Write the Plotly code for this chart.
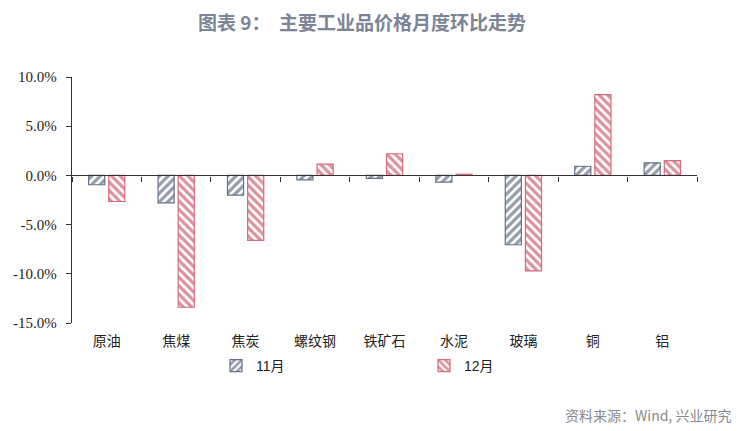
import plotly.graph_objects as go

categories = ["原油", "焦煤", "焦炭", "螺纹钢", "铁矿石", "水泥", "玻璃", "铜", "铝"]
nov_values = [-0.95, -2.8, -2.0, -0.45, -0.3, -0.68, -7.05, 0.93, 1.27]
dec_values = [-2.65, -13.4, -6.6, 1.15, 2.2, 0.12, -9.7, 8.2, 1.5]
series_names = ["11月", "12月"]
y_tick_vals = [10, 5, 0, -5, -10, -15]
y_tick_text = ["10.0%", "5.0%", "0.0%", "-5.0%", "-10.0%", "-15.0%"]

# the page body adds an 8px offset, so the figure is drawn 8px smaller
OFF = 8
W, H = 752 - OFF, 431 - OFF
ML, MR, MT, MB = 72 - OFF, 55, 77 - OFF, 108
PW, PH = W - ML - MR, H - MT - MB

fig = go.Figure()
fig.add_trace(go.Bar(
    x=categories, y=nov_values, name=series_names[0],
    marker=dict(color="white",
                line=dict(color="#66728A", width=1.2),
                pattern=dict(shape="/", fgcolor="#2E3A54", bgcolor="white", size=6, solidity=0.55)),
))
fig.add_trace(go.Bar(
    x=categories, y=dec_values, name=series_names[1],
    marker=dict(color="white",
                line=dict(color="#D86A7A", width=1.2),
                pattern=dict(shape="\\", fgcolor="#B8263D", bgcolor="white", size=6, solidity=0.55)),
))
# helper trace to register the zero-line axis
fig.add_trace(go.Scatter(x=[categories[0]], y=[None], xaxis="x2", showlegend=False,
                         hoverinfo="skip", mode="markers"))

fig.update_layout(
    width=W, height=H,
    margin=dict(l=ML, r=MR, t=MT, b=MB, autoexpand=False),
    paper_bgcolor="white", plot_bgcolor="white",
    barmode="group", bargap=0.42, bargroupgap=0.2,
    title=dict(text="<b>图表 9：  主要工业品价格月度环比走势</b>",
               x=(362 - OFF) / W, xanchor="center", y=1 - (23 - OFF) / H, yanchor="middle",
               font=dict(family="Noto Sans CJK SC", size=19, color="#7B8597")),
    xaxis=dict(type="category", categoryorder="array", categoryarray=categories,
               range=[-0.5, 8.5], showline=False, ticks="", showgrid=False,
               tickfont=dict(family="Liberation Serif, Noto Sans CJK SC", size=14, color="#222"),
               ticklabelstandoff=8),
    xaxis2=dict(type="category", categoryorder="array", categoryarray=categories,
                range=[-0.5, 8.5], overlaying="x", anchor="free", position=0.6,
                showline=True, linecolor="#333", linewidth=1.3,
                ticks="outside", tickson="boundaries", ticklen=5, tickcolor="#333",
                showticklabels=False, showgrid=False),
    yaxis=dict(range=[-15, 10], tickvals=y_tick_vals, ticktext=y_tick_text,
               showline=True, linecolor="#333", linewidth=1.3,
               ticks="outside", ticklen=5, tickcolor="#333", showgrid=False, zeroline=False,
               ticklabelstandoff=6,
               tickfont=dict(family="Liberation Serif", size=15, color="#222")),
    legend=dict(orientation="h", x=(216 - 72) / PW, xanchor="left",
                y=-43 / PH, yanchor="middle",
                entrywidth=163, entrywidthmode="pixels",
                font=dict(family="Liberation Sans, Noto Sans CJK SC", size=14, color="#222"),
                bgcolor="rgba(0,0,0,0)"),
    annotations=[dict(text="资料来源：Wind, 兴业研究", xref="paper", yref="paper",
                      x=(733 - 72) / PW, xanchor="right",
                      y=-(415 - 323) / PH, yanchor="middle",
                      showarrow=False,
                      font=dict(family="Noto Sans CJK SC", size=14, color="#8A8A8A"))],
    hovermode=False,
)

fig.write_html("out.html")
